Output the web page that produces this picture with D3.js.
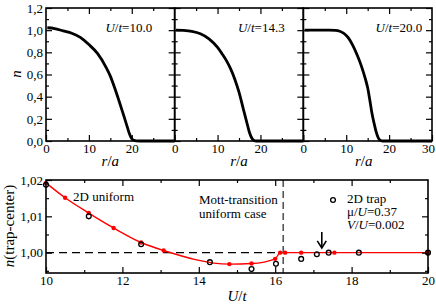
<!DOCTYPE html>
<html>
<head>
<meta charset="utf-8">
<script src="https://cdn.jsdelivr.net/npm/d3@7"></script>
<style>
  body { margin: 0; background: #fff; }
  .tick line { stroke: #000; stroke-width: 1.2; }
  .tick text { font-size: 13px; fill: #000; }
</style>
</head>
<body>
<div id="main"></div>
<script>
// density profiles n(r) for three values of U/t
var panelLabels = ["10.0", "14.3", "20.0"];
var labelR = [19.3, 20.2, 22.3];
var prof10R = [0.3, 2, 4, 6, 8, 10, 12, 14, 15, 16, 17, 18, 19, 19.5, 20, 20.5, 21, 22, 25, 30];
var prof10N = [1.022, 1.015, 0.993, 0.972, 0.935, 0.87, 0.79, 0.665, 0.585, 0.48, 0.365, 0.245, 0.12, 0.06, 0.02, 0.006, 0.001, 0, 0, 0];
var prof14R = [0.3, 2, 4, 6, 8, 10, 11, 12, 13, 14, 15, 16, 16.5, 17, 17.5, 18, 18.5, 19, 22, 30];
var prof14N = [1.0, 0.998, 0.99, 0.968, 0.922, 0.845, 0.79, 0.73, 0.655, 0.56, 0.44, 0.29, 0.215, 0.14, 0.07, 0.025, 0.005, 0, 0, 0];
var prof20R = [0.3, 3, 6, 7.5, 8.5, 9.5, 10.5, 11.5, 12.5, 13.5, 14.5, 15, 15.5, 16, 16.5, 17, 17.5, 18, 18.5, 22, 30];
var prof20N = [1.0, 1.0, 1.0, 0.998, 0.99, 0.97, 0.93, 0.865, 0.78, 0.68, 0.555, 0.48, 0.37, 0.25, 0.16, 0.08, 0.025, 0.005, 0, 0, 0];

// trap-center density vs U/t
var uniformU = [10, 10.5, 11.12, 11.77, 12.49, 13.08, 14.8, 15.38, 16.0, 16.13, 16.26, 16.68, 17.55, 20];
var uniformN = [1.0192, 1.0151, 1.0109, 1.0068, 1.0028, 1.0006, 0.99685, 0.9970, 0.9983, 1.0, 1.0, 1.0, 1.0, 1.0];
var trapU = [10, 11.12, 12.49, 14.29, 15.38, 16.02, 16.68, 17.09, 17.4, 18.19, 20];
var trapN = [1.0187, 1.0100, 1.0023, 0.99738, 0.99548, 0.99692, 0.99828, 0.99956, 1.0, 1.0, 1.0];
var mottU = 16.21;
var arrowU = 17.22;

var serif = "'Liberation Serif', 'Times New Roman', serif";
var comma = function(f) { return function(d) { return d3.format(f)(d).replace(".", ","); }; };
var zip = function(a, b) { return a.map(function(v, i) { return [v, b[i]]; }); };

var svg = d3.select("#main").append("svg").attr("width", 436).attr("height", 304)
  .style("display", "block").style("font-family", serif);

// inward ticks on one side of a frame
function ticks(g, axisFn, scale, major, minor, fmt, tx, ty) {
  g.append("g").attr("transform", "translate(" + tx + "," + ty + ")")
    .call(axisFn(scale).tickValues(minor).tickSize(-3).tickFormat(""))
    .call(function(s) { s.select(".domain").remove(); });
  return g.append("g").attr("transform", "translate(" + tx + "," + ty + ")")
    .call(axisFn(scale).tickValues(major).tickSize(-6).tickPadding(3).tickFormat(fmt || ""))
    .call(function(s) {
      s.select(".domain").remove();
      s.attr("font-family", null).attr("font-size", null);
      s.selectAll("text").style("font-family", serif);
    });
}

// ---------- top row ----------
var upper = { l: 46, r: 432, t: 8, b: 141 };
var pw = (upper.r - upper.l) / 3;
var yTop = d3.scaleLinear().domain([0, 1.2]).range([upper.b, upper.t]);
var profiles = [zip(prof10R, prof10N), zip(prof14R, prof14N), zip(prof20R, prof20N)];

profiles.forEach(function(pts, i) {
  var x0 = upper.l + i * pw;
  var x = d3.scaleLinear().domain([0, 30]).range([x0, x0 + pw]);
  var g = svg.append("g");
  var line = d3.line().x(function(d) { return x(d[0]); }).y(function(d) { return yTop(d[1]); })
    .curve(d3.curveMonotoneX);
  g.append("path").datum(pts).attr("d", line)
    .attr("fill", "none").attr("stroke", "#000").attr("stroke-width", 2.8);

  var xMaj = i == 2 ? [0, 10, 20, 30] : [0, 10, 20];
  var xa = ticks(g, d3.axisBottom, x, xMaj, [5, 15, 25], d3.format("d"), 0, upper.b);
  // keep the last label inside the picture
  xa.selectAll(".tick text").filter(function(d) { return d == 30; }).attr("dx", -4);
  ticks(g, d3.axisTop, x, [10, 20], [5, 15, 25], null, 0, upper.t);
  var yMaj = d3.range(0, 1.21, 0.2), yMin = d3.range(0.1, 1.2, 0.2);
  ticks(g, d3.axisLeft, yTop, yMaj, yMin, i == 0 ? comma(".1f") : null, x0, 0);
  ticks(g, d3.axisRight, yTop, yMaj, yMin, null, x0 + pw, 0);

  g.append("rect").attr("x", x0).attr("y", upper.t).attr("width", pw).attr("height", upper.b - upper.t)
    .attr("fill", "none").attr("stroke", "#000").attr("stroke-width", 1.6);

  var lab = g.append("text").attr("x", x(labelR[i])).attr("y", 32).attr("text-anchor", "middle")
    .attr("font-size", 13);
  lab.append("tspan").attr("font-style", "italic").text("U");
  lab.append("tspan").text("/");
  lab.append("tspan").attr("font-style", "italic").text("t");
  lab.append("tspan").text("=" + panelLabels[i]);

  var ra = g.append("text").attr("x", x(15) - (i == 2 ? 4 : 0)).attr("y", 166)
    .attr("text-anchor", "middle").attr("font-size", 15).attr("font-style", "italic");
  ra.append("tspan").text("r");
  ra.append("tspan").attr("font-style", "normal").text("/");
  ra.append("tspan").text("a");
});

svg.append("text").attr("transform", "translate(21,74) rotate(-90)").attr("text-anchor", "middle")
  .attr("font-size", 15).attr("font-style", "italic").text("n");

// ---------- bottom panel ----------
var bot = { l: 46, r: 428, t: 180, b: 273 };
var xB = d3.scaleLinear().domain([10, 20]).range([bot.l, bot.r]);
var yB = d3.scaleLinear().domain([0.9944, 1.02]).range([bot.b, bot.t]);
var gB = svg.append("g");

gB.append("line").attr("x1", xB(10)).attr("x2", xB(mottU)).attr("y1", yB(1)).attr("y2", yB(1))
  .attr("stroke", "#000").attr("stroke-width", 1.4).attr("stroke-dasharray", "8,5");
gB.append("line").attr("x1", xB(mottU)).attr("x2", xB(mottU)).attr("y1", yB(1.02)).attr("y2", yB(0.9944))
  .attr("stroke", "#555").attr("stroke-width", 1.6).attr("stroke-dasharray", "7,4");

var uni = zip(uniformU, uniformN);
gB.append("path").datum(uni)
  .attr("d", d3.line().x(function(d) { return xB(d[0]); }).y(function(d) { return yB(d[1]); })
    .curve(d3.curveMonotoneX))
  .attr("fill", "none").attr("stroke", "#f00").attr("stroke-width", 1.4);
gB.selectAll("circle.uni").data(uni).enter().append("circle").attr("class", "uni")
  .attr("cx", function(d) { return xB(d[0]); }).attr("cy", function(d) { return yB(d[1]); })
  .attr("r", 2.2).attr("fill", "#f00");

gB.selectAll("circle.trap").data(zip(trapU, trapN)).enter().append("circle").attr("class", "trap")
  .attr("cx", function(d) { return xB(d[0]); }).attr("cy", function(d) { return yB(d[1]); })
  .attr("r", 2.4).attr("fill", "none").attr("stroke", "#000").attr("stroke-width", 1.3);

// arrow
gB.append("line").attr("x1", xB(arrowU)).attr("x2", xB(arrowU)).attr("y1", yB(1.0057)).attr("y2", yB(1.0013))
  .attr("stroke", "#000").attr("stroke-width", 1.6);
gB.append("path").attr("d", "M" + (xB(arrowU) - 4.5) + "," + (yB(1.0013) - 7) + "L" + xB(arrowU) + "," + yB(1.0013) +
  "L" + (xB(arrowU) + 4.5) + "," + (yB(1.0013) - 7)).attr("fill", "none").attr("stroke", "#000").attr("stroke-width", 1.6);

ticks(gB, d3.axisBottom, xB, d3.range(10, 21, 2), d3.range(11, 20, 2), d3.format("d"), 0, bot.b);
ticks(gB, d3.axisTop, xB, d3.range(12, 20, 2), d3.range(11, 20, 2), null, 0, bot.t);
ticks(gB, d3.axisLeft, yB, [1.0, 1.01, 1.02], [0.995, 1.005, 1.015], comma(".2f"), bot.l, 0);
ticks(gB, d3.axisRight, yB, [1.0, 1.01], [0.995, 1.005, 1.015], null, bot.r, 0);
gB.append("rect").attr("x", bot.l).attr("y", bot.t).attr("width", bot.r - bot.l).attr("height", bot.b - bot.t)
  .attr("fill", "none").attr("stroke", "#000").attr("stroke-width", 1.6);

// texts
var t13 = function(x, y) { return gB.append("text").attr("x", x).attr("y", y).attr("font-size", 13); };
t13(73, 201).text("2D uniform");
t13(199, 204).text("Mott-transition");
t13(199, 218).text("uniform case");
gB.append("circle").attr("cx", 333).attr("cy", 200).attr("r", 2.4)
  .attr("fill", "none").attr("stroke", "#000").attr("stroke-width", 1.3);
t13(347, 203).text("2D trap");
var mu = t13(347, 216);
mu.append("tspan").text("\u03bc/");
mu.append("tspan").attr("font-style", "italic").text("U");
mu.append("tspan").text("=0.37");
var vu = t13(347, 229);
vu.append("tspan").attr("font-style", "italic").text("V");
vu.append("tspan").text("/");
vu.append("tspan").attr("font-style", "italic").text("U");
vu.append("tspan").text("=0.002");

var ut = svg.append("text").attr("x", (bot.l + bot.r) / 2).attr("y", 301).attr("text-anchor", "middle")
  .attr("font-size", 15).attr("font-style", "italic");
ut.append("tspan").text("U");
ut.append("tspan").attr("font-style", "normal").text("/");
ut.append("tspan").text("t");

var ny = svg.append("text").attr("transform", "translate(14,226) rotate(-90)").attr("text-anchor", "middle")
  .attr("font-size", 15);
ny.append("tspan").attr("font-style", "italic").text("n");
ny.append("tspan").text("(trap-center)");
</script>
</body>
</html>
